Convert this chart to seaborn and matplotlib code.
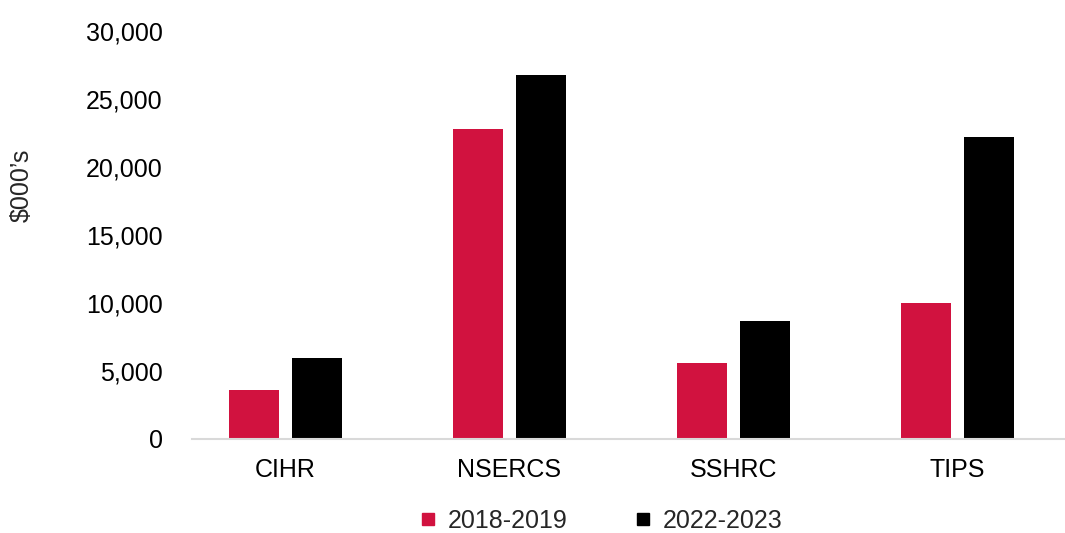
import numpy as np
import pandas as pd
import matplotlib
matplotlib.use("Agg")
import matplotlib.pyplot as plt
import seaborn as sns
from matplotlib.lines import Line2D
from matplotlib.ticker import FuncFormatter

# data (values in $000's)
categories = ["CIHR", "NSERCS", "SSHRC", "TIPS"]
years = ["2018-2019", "2022-2023"]
vals_2018 = [3600, 22850, 5530, 10000]
vals_2022 = [5950, 26800, 8650, 22250]
colors = ["#D1123F", "#000000"]

df = pd.DataFrame({
    "agency": categories * 2,
    "year": [years[0]] * 4 + [years[1]] * 4,
    "value": vals_2018 + vals_2022,
})

sns.set_style("white")
plt.rcParams["font.family"] = ["Liberation Sans", "DejaVu Sans"]
fs = 18

fig = plt.figure(figsize=(10.65, 5.33), dpi=100)
ax = fig.add_axes([192 / 1065, 1 - 438.5 / 533, 1 - 192 / 1065, (438.5 - 31.5) / 533])

sns.barplot(data=df, x="agency", y="value", hue="year", palette=colors,
            width=0.5625, gap=0.206, ax=ax, legend=False, saturation=1,
            linewidth=0)

ax.set_ylim(0, 30000)
ax.set_xlim(-0.417, 3.48)
ax.set_yticks(np.arange(0, 30001, 5000))
ax.yaxis.set_major_formatter(FuncFormatter(lambda v, p: f"{int(v):,}"))
ax.tick_params(axis="both", length=0, labelsize=fs, colors="#000000")
ax.tick_params(axis="y", pad=21)
ax.tick_params(axis="x", pad=14)
ax.set_xlabel("")
ax.set_ylabel("")
for s in ["top", "right", "left"]:
    ax.spines[s].set_visible(False)
ax.spines["bottom"].set_color("#D9D9D9")
ax.spines["bottom"].set_linewidth(1.5)

fig.text(22 / 1065, 1 - 185 / 533, "$000\u2019s", rotation=90, fontsize=fs,
         ha="center", va="center")

handles = [Line2D([], [], marker="s", linestyle="", markersize=8,
                  markerfacecolor=c, markeredgecolor=c) for c in colors]
fig.legend(handles, years, loc="center", bbox_to_anchor=(600 / 1065, 1 - 521 / 533),
           ncol=2, frameon=False, fontsize=fs, handletextpad=0.4,
           columnspacing=2.6, handlelength=0.8)

fig.savefig("out.png", dpi=100)
